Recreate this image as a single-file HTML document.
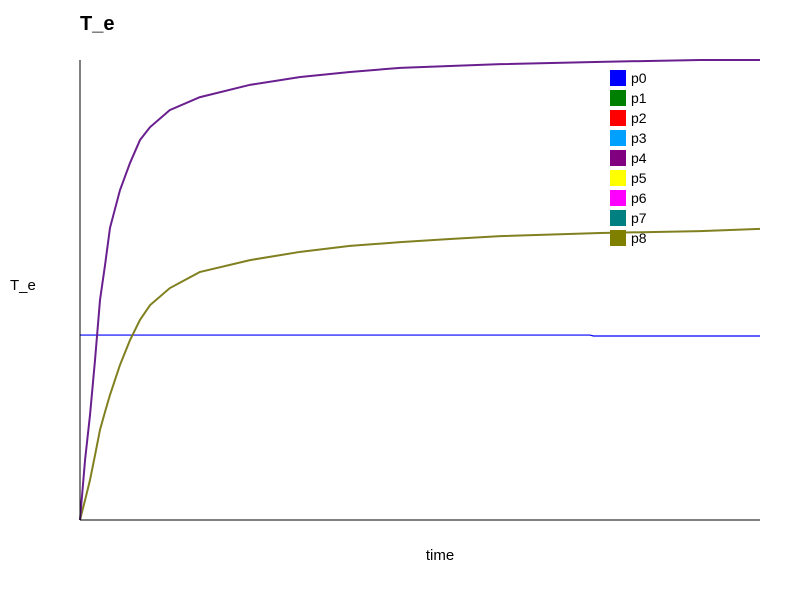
<!DOCTYPE html>
<html><head><meta charset="utf-8"><style>
body{margin:0;background:#fff;font-family:"Liberation Sans",sans-serif}
svg{display:block}
</style></head><body>
<svg id="c" width="800" height="600">
<text x="80" y="30" font-size="20" font-weight="bold">T_e</text>
<text x="10" y="290" font-size="15">T_e</text>
<text x="440" y="560" font-size="15" text-anchor="middle">time</text>
<g id="plot"></g>
<line x1="80" y1="60" x2="80" y2="520" stroke="#000"/>
<line x1="80" y1="520" x2="760" y2="520" stroke="#000"/>
<g id="legend"></g>
</svg>
<script>
const times=[0,0.74,1.47,2.21,2.94,3.68,4.41,5.88,7.35,8.82,10.3,13.2,17.6,25,32.4,39.7,47.1,54.4,61.8,76.5,91.2,100];
const purpleVals=[0,13,22.8,34.8,47.8,55.4,63.5,71.7,77.6,82.6,85.4,89.1,91.9,94.6,96.3,97.4,98.3,98.7,99.1,99.6,100,100];
const oliveVals=[0,4.3,8.7,14.1,19.6,23.5,27.2,33.7,39.1,43.5,46.7,50.4,53.9,56.5,58.3,59.6,60.4,61.1,61.7,62.4,62.8,63.3];
const blueTimes=[0,75,75.5,100];
const blueVals=[40.2,40.2,40,40];
const legendLabels=["p0","p1","p2","p3","p4","p5","p6","p7","p8"];
const legendColors=["#0000ff","#008000","#ff0000","#00a0ff","#800080","#ffff00","#ff00ff","#008080","#808000"];
const xs=t=>80+t*6.8, ys=v=>520-v*4.6;
const NS="http://www.w3.org/2000/svg";
const plot=document.getElementById('plot');
function line(ts,vs,color,name,w){
  const p=document.createElementNS(NS,'polyline');
  p.setAttribute('points',ts.map((t,i)=>xs(t)+','+ys(vs[i])).join(' '));
  p.setAttribute('fill','none');p.setAttribute('stroke',color);p.setAttribute('stroke-width',w);
  
  
  plot.appendChild(p);
}
line(blueTimes,blueVals,"#0000ff","series-p0",1.2);
line(times,oliveVals,"#808020","series-p8",2);
line(times,purpleVals,"#6a1f8f","series-p4",2);
const lg=document.getElementById('legend');
legendLabels.forEach((l,i)=>{
  const g=document.createElementNS(NS,'g');
  
  
  const r=document.createElementNS(NS,'rect');
  r.setAttribute('x',610);r.setAttribute('y',70+i*20);r.setAttribute('width',16);r.setAttribute('height',16);
  r.setAttribute('fill',legendColors[i]);
  const t=document.createElementNS(NS,'text');
  t.setAttribute('x',631);t.setAttribute('y',83+i*20);t.setAttribute('font-size',14);t.textContent=l;
  g.appendChild(r);g.appendChild(t);lg.appendChild(g);
});
</script>
</body></html>
